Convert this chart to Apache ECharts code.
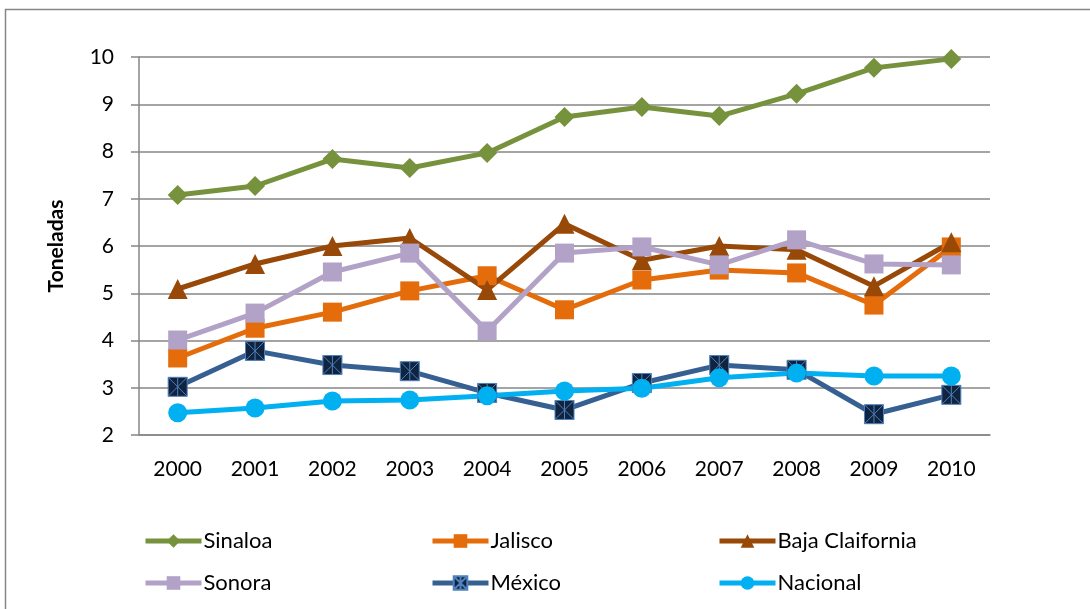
<!DOCTYPE html>
<html><head><meta charset="utf-8">
<script src="https://cdn.jsdelivr.net/npm/echarts@6/dist/echarts.min.js"></script>
<style>html,body{margin:0;padding:0;background:#fff}#c{width:1090px;height:609px}</style>
</head><body><div id="c"></div>
<script>
const years = ['2000','2001','2002','2003','2004','2005','2006','2007','2008','2009','2010'];
const sinaloa = [7.08,7.27,7.84,7.65,7.97,8.73,8.94,8.75,9.22,9.77,9.96];
const jalisco = [3.63,4.26,4.60,5.05,5.37,4.65,5.28,5.49,5.43,4.75,5.98];
const baja = [5.09,5.62,6.00,6.17,5.07,6.47,5.70,6.00,5.92,5.15,6.08];
const sonora = [4.01,4.58,5.45,5.85,4.20,5.85,5.98,5.60,6.13,5.62,5.60];
const mexico = [3.02,3.78,3.48,3.35,2.89,2.53,3.10,3.48,3.38,2.44,2.85];
const nacional = [2.47,2.57,2.72,2.74,2.83,2.93,2.99,3.21,3.31,3.25,3.25];
const yTicks = {min:2, max:10, interval:1};

const FONT = 'Lato';
const chart = echarts.init(document.getElementById('c'), null, {renderer:'canvas'});
function ser(name, data, color, symbol, size, extra){
  return Object.assign({
    name, type:'line', data, symbol, symbolSize:size,
    lineStyle:{color, width:5}, itemStyle:{color},
    showAllSymbol:true, animation:false, z:2
  }, extra||{});
}
const mexSym = 'path://M0,0H10V10H0Z M0,0L10,10 M10,0L0,10 M5,0L5,10';
const legendBase = {
  orient:'vertical', itemWidth:56, itemHeight:17, itemGap:20,
  lineStyle:{width:5},
  textStyle:{fontFamily:FONT, fontSize:22, color:'#000', lineHeight:21, padding:[0,0,0,-3]}
};
chart.setOption({
  backgroundColor:'#fff',
  animation:false,
  grid:{left:139, right:100, top:57, bottom:174},
  xAxis:{
    type:'category', data:years, boundaryGap:true,
    axisLine:{show:true, lineStyle:{color:'#868686', width:1.5}},
    axisTick:{show:false},
    axisLabel:{fontFamily:FONT, fontSize:21, color:'#000', margin:24}
  },
  yAxis:{
    type:'value', min:yTicks.min, max:yTicks.max, interval:yTicks.interval,
    name:'Toneladas', nameLocation:'middle', nameGap:72,
    nameTextStyle:{fontFamily:FONT, fontSize:21, fontWeight:'bold', color:'#000'},
    axisLine:{show:true, lineStyle:{color:'#868686', width:1.5}},
    axisTick:{show:true, length:8, lineStyle:{color:'#868686', width:1.5}},
    splitLine:{show:true, lineStyle:{color:'#868686', width:1.5}},
    axisLabel:{fontFamily:FONT, fontSize:21, color:'#000', margin:25}
  },
  legend:[
    Object.assign({left:138, top:525, data:['Sinaloa','Sonora']}, legendBase),
    Object.assign({left:425, top:525, data:['Jalisco','México']}, legendBase),
    Object.assign({left:712, top:525, data:['Baja Claifornia','Nacional']}, legendBase)
  ],
  graphic:[{type:'rect', shape:{x:5.5, y:9.5, width:1100, height:620}, style:{fill:'none', stroke:'#868686', lineWidth:1.5}, silent:true}],
  series:[
    ser('Sinaloa', sinaloa, '#76923C', 'diamond', 20),
    ser('Jalisco', jalisco, '#E46C0A', 'rect', 19),
    ser('Baja Claifornia', baja, '#984807', 'triangle', 20),
    ser('Sonora', sonora, '#B3A2C7', 'rect', 19),
    ser('México', mexico, '#376092', mexSym, 19, {itemStyle:{color:'#10243F', borderColor:'#4F81BD', borderWidth:1}}),
    ser('Nacional', nacional, '#00B0F0', 'circle', 19)
  ]
});
</script></body></html>
